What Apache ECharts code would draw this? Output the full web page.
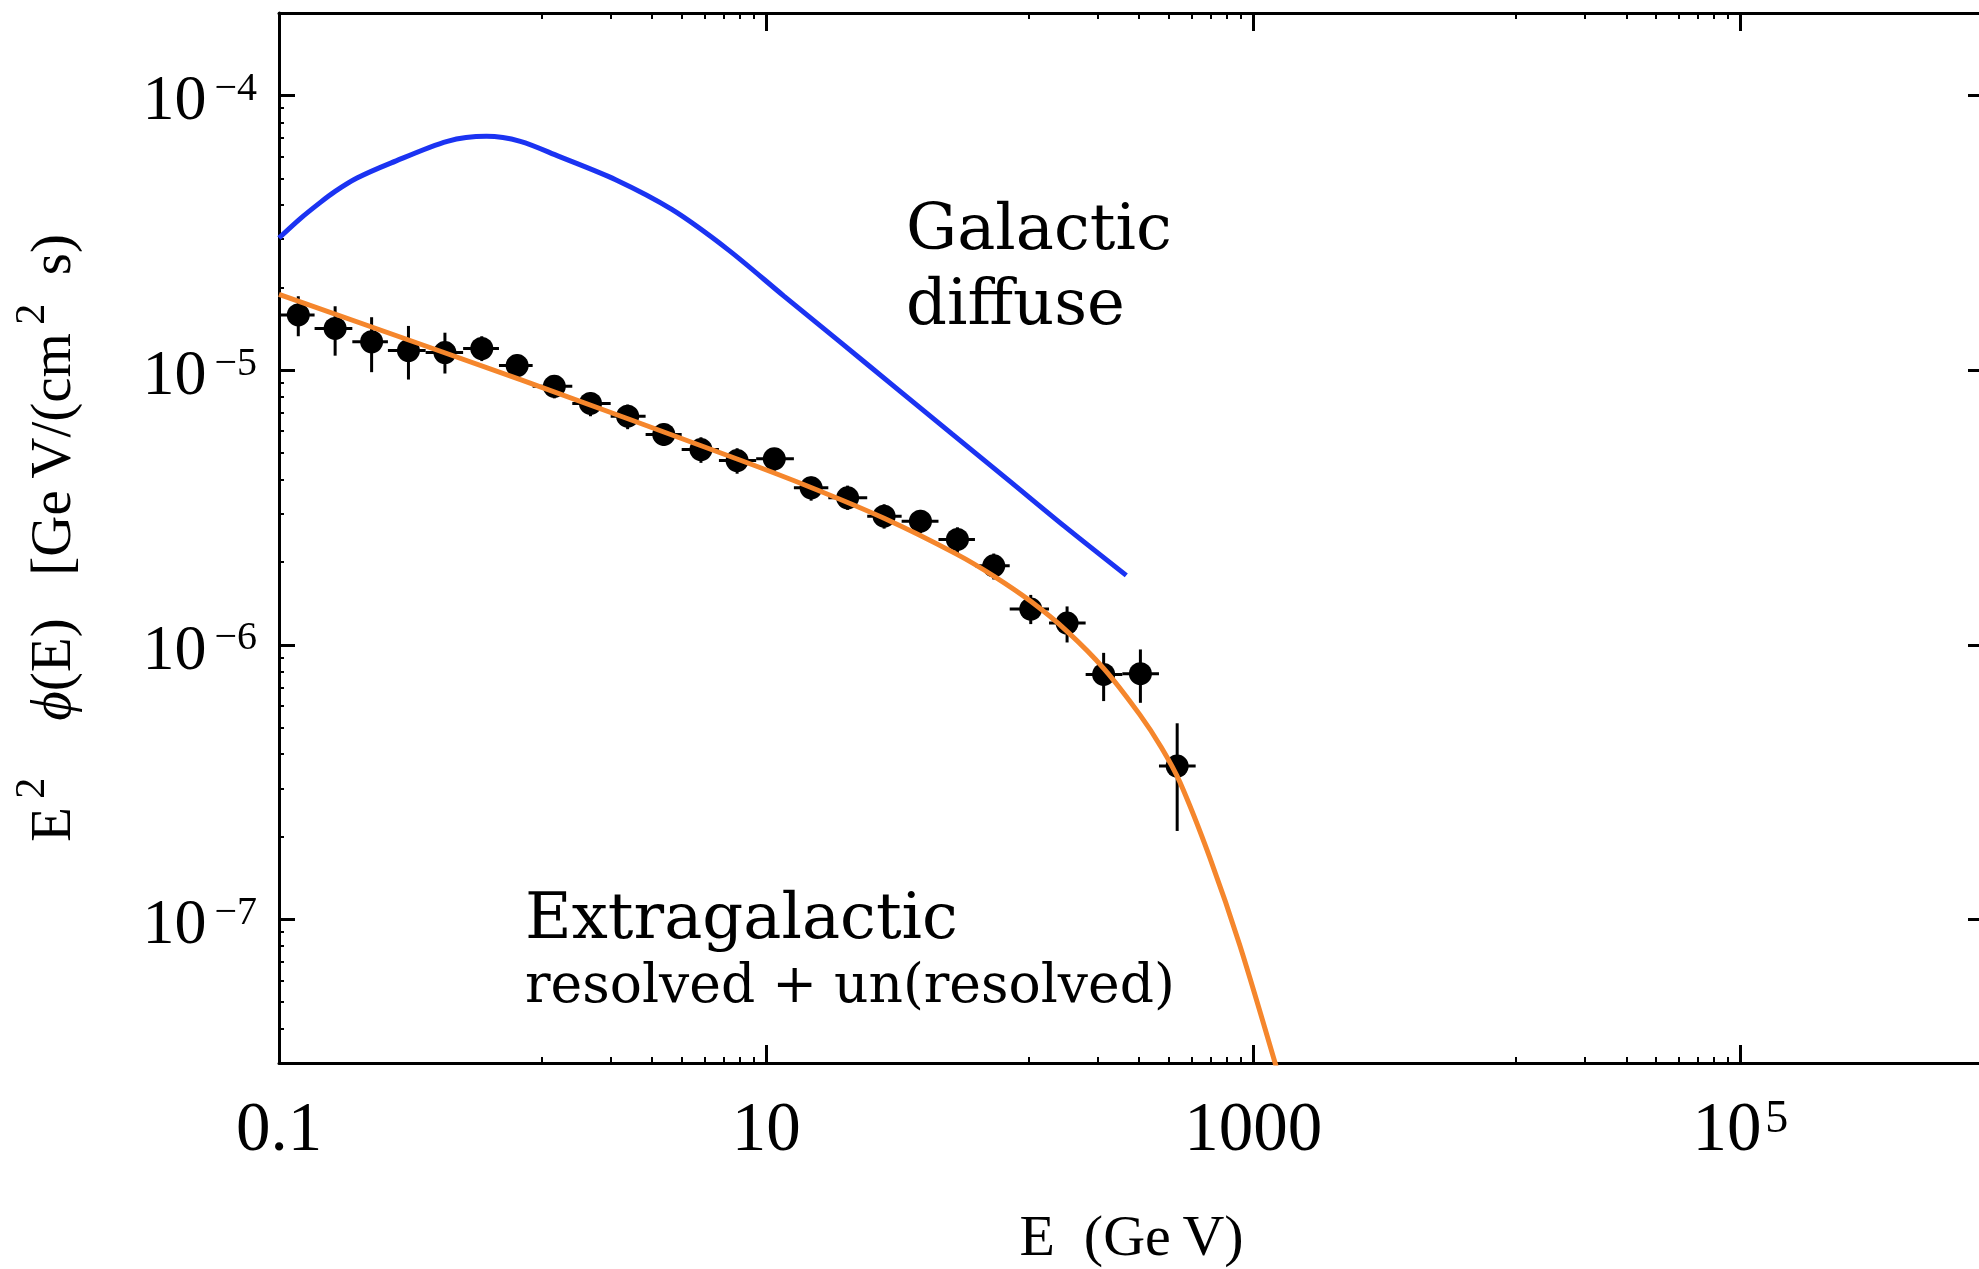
<!DOCTYPE html>
<html><head><meta charset="utf-8">
<script src="https://cdn.jsdelivr.net/npm/echarts@6/dist/echarts.min.js"></script>
<style>html,body{margin:0;padding:0;background:#fff;overflow:hidden}#c{width:1979px;height:1269px}</style>
</head><body><div id="c"></div>
<script>
// ---- data ----
const energy = [0.12, 0.17, 0.24, 0.34, 0.48, 0.68, 0.95, 1.35, 1.9, 2.7, 3.8, 5.4, 7.6, 10.8, 15.3, 21.6, 30.5, 43, 61, 86, 122, 172, 243, 344, 487];
const flux = [1.59e-5, 1.42e-5, 1.27e-5, 1.18e-5, 1.16e-5, 1.20e-5, 1.04e-5, 8.74e-6, 7.57e-6, 6.80e-6, 5.84e-6, 5.14e-6, 4.69e-6, 4.76e-6, 3.73e-6, 3.43e-6, 2.94e-6, 2.82e-6, 2.42e-6, 1.94e-6, 1.35e-6, 1.20e-6, 7.80e-7, 7.85e-7, 3.62e-7];
const fluxHi = [1.86e-5, 1.71e-5, 1.56e-5, 1.45e-5, 1.37e-5, 1.33e-5, 1.14e-5, 9.6e-6, 8.3e-6, 7.5e-6, 6.4e-6, 5.7e-6, 5.2e-6, 5.2e-6, 4.1e-6, 3.8e-6, 3.25e-6, 3.1e-6, 2.68e-6, 2.15e-6, 1.52e-6, 1.38e-6, 9.35e-7, 9.62e-7, 5.18e-7];
const fluxLo = [1.33e-5, 1.13e-5, 9.84e-6, 9.25e-6, 9.73e-6, 1.08e-5, 9.4e-6, 7.9e-6, 6.8e-6, 6.1e-6, 5.3e-6, 4.6e-6, 4.2e-6, 4.3e-6, 3.35e-6, 3.1e-6, 2.65e-6, 2.55e-6, 2.16e-6, 1.73e-6, 1.19e-6, 1.02e-6, 6.24e-7, 6.15e-7, 2.10e-7];
const binEdges = [0.1, 0.14, 0.2, 0.28, 0.4, 0.57, 0.8, 1.1, 1.6, 2.3, 3.2, 4.5, 6.4, 9.1, 13, 18, 26, 36, 51, 72, 100, 145, 205, 290, 410, 580];

const fitE = [0.1, 1.0, 7.6, 15.2, 30.5, 60.5, 86, 122, 172, 244, 342, 420, 500, 663, 881, 1265];
const fitFlux = [1.89e-5, 9.18e-6, 4.75e-6, 3.75e-6, 2.89e-6, 2.14e-6, 1.78e-6, 1.44e-6, 1.12e-6, 8.18e-7, 5.57e-7, 4.22e-7, 3.16e-7, 1.68e-7, 8.04e-8, 2.75e-8];

const galE = [0.1, 0.122, 0.147, 0.17, 0.209, 0.289, 0.491, 0.711, 0.979, 1.41, 2.41, 4.10, 6.97, 11.8, 20.1, 34.2, 58.1, 98.8, 168, 301];
const galFlux = [3.03e-5, 3.56e-5, 4.07e-5, 4.48e-5, 5.01e-5, 5.69e-5, 6.82e-5, 7.11e-5, 6.82e-5, 6.01e-5, 4.94e-5, 3.85e-5, 2.75e-5, 1.866e-5, 1.268e-5, 8.61e-6, 5.85e-6, 3.98e-6, 2.70e-6, 1.79e-6];

const xMajorTicks = [0.1, 10, 1000, 100000];
const xMajorLabels = ['{b|0.1}', '{b|10}', '{b|1000}', '{b|10}{s|\u200a5}'];
const xMinorTicks = [1.2, 2.3, 3.4, 4.5, 5.6, 6.7, 7.8, 8.9, 120, 230, 340, 450, 560, 670, 780, 890, 12000, 23000, 34000, 45000, 56000, 67000, 78000, 89000];
const yMajorTicks = [1e-7, 1e-6, 1e-5, 1e-4];
const yMajorLabels = ['{b|10}{s|\u2009\u22127}', '{b|10}{s|\u2009\u22126}', '{b|10}{s|\u2009\u22125}', '{b|10}{s|\u2009\u22124}'];
const yMinorTicks = [4e-8, 5e-8, 6e-8, 7e-8, 8e-8, 9e-8, 2e-7, 3e-7, 4e-7, 5e-7, 6e-7, 7e-7, 8e-7, 9e-7, 2e-6, 3e-6, 4e-6, 5e-6, 6e-6, 7e-6, 8e-6, 9e-6, 2e-5, 3e-5, 4e-5, 5e-5, 6e-5, 7e-5, 8e-5, 9e-5];

const X_MIN = 0.1, X_MAX = 1e6, Y_MIN = 3e-8, Y_MAX = 2e-4;

// ---- chart ----
const serif = 'Liberation Serif';
function pick(ticks, labels, v) {
  let best = 0, bd = Infinity;
  ticks.forEach((t, i) => { const d = Math.abs(Math.log10(t) - Math.log10(v)); if (d < bd) { bd = d; best = i; } });
  return bd < 0.01 ? labels[best] : '';
}
function xAxisDef(pos, major) {
  return {
    type: 'log', logBase: 10, min: X_MIN, max: X_MAX, position: pos, gridIndex: 0,
    axisLine: { show: major, onZero: false, lineStyle: { color: '#000', width: 3 } },
    axisTick: { show: true, inside: true, length: major ? 18 : 6, customValues: major ? xMajorTicks : xMinorTicks,
      lineStyle: { color: '#000', width: major ? 3 : 2 } },
    axisLabel: { show: false },
    splitLine: { show: false }, minorTick: { show: false }, minorSplitLine: { show: false }
  };
}
function yAxisDef(pos, major) {
  return {
    type: 'log', logBase: 10, min: Y_MIN, max: Y_MAX, position: pos, gridIndex: 0,
    axisLine: { show: major, onZero: false, lineStyle: { color: '#000', width: 3 } },
    axisTick: { show: true, inside: true, length: major ? 16 : 5, customValues: major ? yMajorTicks : yMinorTicks,
      lineStyle: { color: '#000', width: major ? 3 : 2 } },
    axisLabel: { show: false },
    splitLine: { show: false }, minorTick: { show: false }, minorSplitLine: { show: false }
  };
}

const xMain = xAxisDef('bottom', true);
xMain.axisLabel = {
  show: true, customValues: xMajorTicks, margin: 34, color: '#000',
  formatter: v => pick(xMajorTicks, xMajorLabels, v),
  rich: {
    b: { fontFamily: serif, fontSize: 69, lineHeight: 70, color: '#000' },
    s: { fontFamily: serif, fontSize: 46, color: '#000', verticalAlign: 'top' }
  }
};
xMain.name = 'E  (Ge\u2009V)';
xMain.nameLocation = 'middle';
xMain.nameGap = 148;
xMain.nameTextStyle = { fontFamily: serif, fontSize: 58, color: '#000' };

const yMain = yAxisDef('left', true);
yMain.axisLabel = {
  show: true, customValues: yMajorTicks, margin: 22, color: '#000', padding: [14, 0, 0, 0],
  formatter: v => pick(yMajorTicks, yMajorLabels, v),
  rich: {
    b: { fontFamily: serif, fontSize: 64, lineHeight: 66, color: '#000' },
    s: { fontFamily: serif, fontSize: 40, color: '#000', verticalAlign: 'top' }
  }
};
yMain.name = '{n|E}{s|\u20092}{n|    }{i|\u03d5}{n|(E)   [Ge\u2009V/(cm}{s|\u20092}{n|  s)}';
yMain.nameLocation = 'middle';
yMain.nameRotate = 90;
yMain.nameGap = 181;
yMain.nameTextStyle = {
  color: '#000',
  rich: {
    n: { fontFamily: serif, fontSize: 57, lineHeight: 86, color: '#000' },
    i: { fontFamily: serif, fontSize: 57, lineHeight: 86, fontStyle: 'italic', color: '#000' },
    s: { fontFamily: serif, fontSize: 42, color: '#000', verticalAlign: 'top' }
  }
};

const chart = echarts.init(document.getElementById('c'), null, { renderer: 'canvas', width: 1979, height: 1269 });
chart.setOption({
  backgroundColor: '#ffffff',
  animation: false,
  grid: { left: 279, top: 13, width: 1705, height: 1050, containLabel: false, outerBoundsMode: 'none' },
  xAxis: [xMain, xAxisDef('bottom', false), xAxisDef('top', true), xAxisDef('top', false)],
  yAxis: [yMain, yAxisDef('left', false), yAxisDef('right', true), yAxisDef('right', false)],
  series: [
    {
      name: 'Galactic diffuse', type: 'line', xAxisIndex: 0, yAxisIndex: 0,
      data: galE.map((e, i) => [e, galFlux[i]]),
      smooth: 0.3, showSymbol: false, z: 3,
      lineStyle: { color: '#1b33f2', width: 5 }
    },
    {
      name: 'errors', type: 'custom', xAxisIndex: 0, yAxisIndex: 0, z: 4,
      data: energy.map((e, i) => [e, flux[i], binEdges[i], binEdges[i + 1], fluxLo[i], fluxHi[i]]),
      encode: { x: 0, y: 1 },
      renderItem: function (params, api) {
        const l = api.coord([api.value(2), api.value(1)]);
        const r = api.coord([api.value(3), api.value(1)]);
        const lo = api.coord([api.value(0), api.value(4)]);
        const hi = api.coord([api.value(0), api.value(5)]);
        return { type: 'group', children: [
          { type: 'line', shape: { x1: l[0], y1: l[1], x2: r[0], y2: r[1] }, style: { stroke: '#000', lineWidth: 3 } },
          { type: 'line', shape: { x1: lo[0], y1: lo[1], x2: hi[0], y2: hi[1] }, style: { stroke: '#000', lineWidth: 3 } }
        ] };
      }
    },
    {
      name: 'Extragalactic', type: 'scatter', xAxisIndex: 0, yAxisIndex: 0, z: 5,
      data: energy.map((e, i) => [e, flux[i]]),
      symbol: 'circle', symbolSize: 23, itemStyle: { color: '#000', opacity: 1 }
    },
    {
      name: 'fit', type: 'line', xAxisIndex: 0, yAxisIndex: 0, z: 6,
      data: fitE.map((e, i) => [e, fitFlux[i]]),
      smooth: 0.3, showSymbol: false, clip: true,
      lineStyle: { color: '#f5862c', width: 5 }
    }
  ],
  graphic: [
    { type: 'text', left: 906, top: 195, z: 10, style: { text: 'Galactic\ndiffuse', font: '64px "DejaVu Serif"', fill: '#000', lineHeight: 75 } },
    { type: 'text', left: 525, top: 889, z: 10, style: { text: 'Extragalactic', font: '64px "DejaVu Serif"', fill: '#000', lineHeight: 64 } },
    { type: 'text', left: 525, top: 961, z: 10, style: { text: 'resolved + un(resolved)', font: '53.5px "DejaVu Serif"', fill: '#000', lineHeight: 53 } }
  ]
});
</script>
</body></html>
